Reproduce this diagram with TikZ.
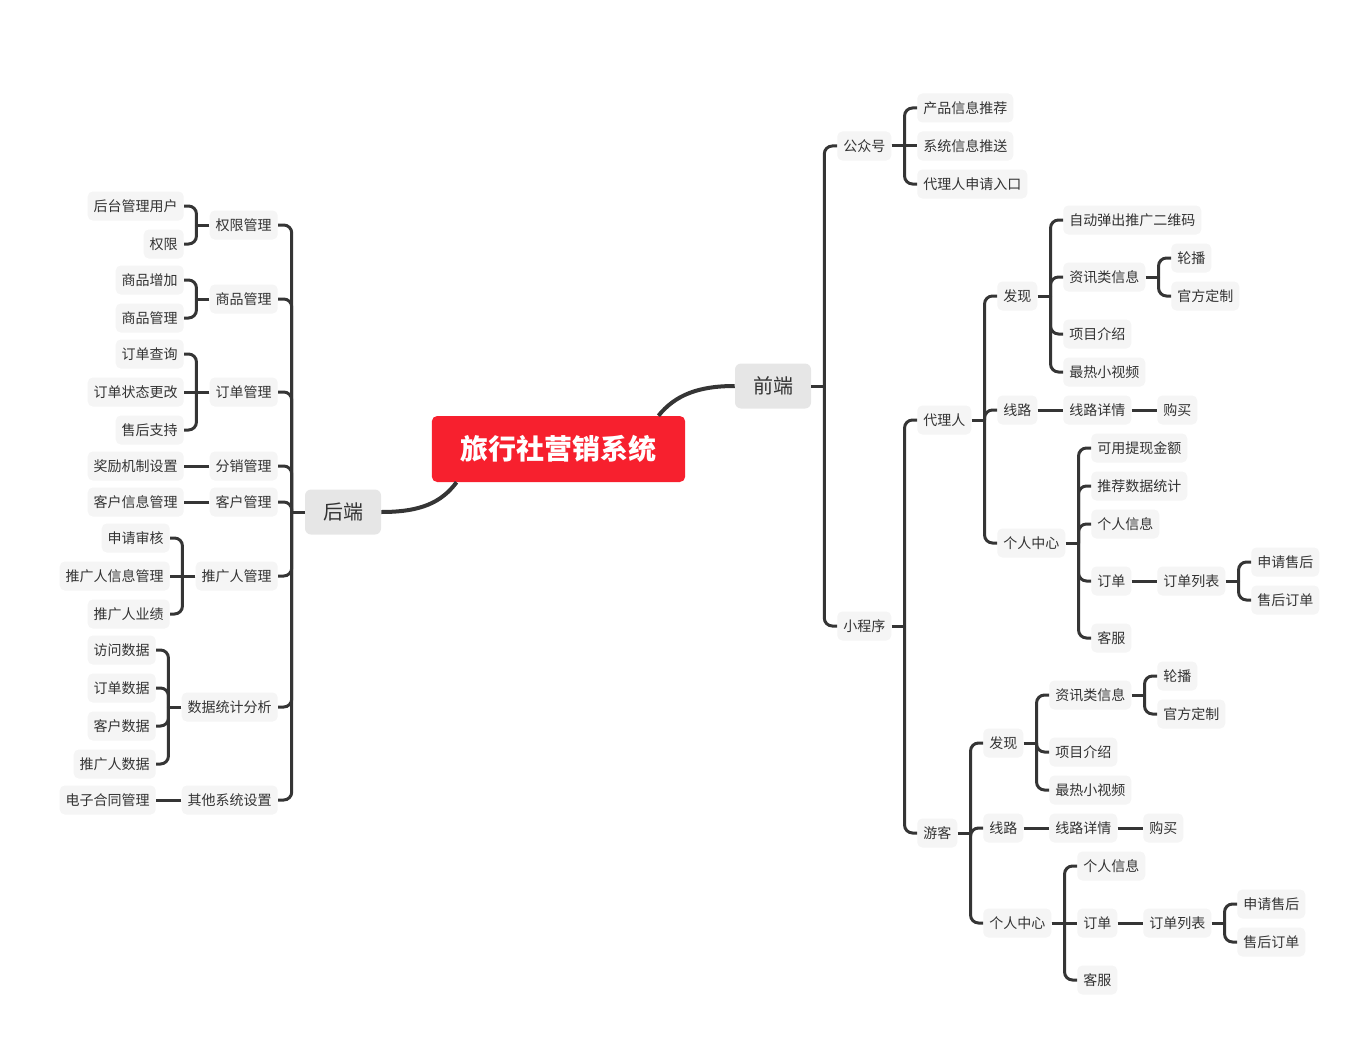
\documentclass[tikz,border=0pt]{standalone}
\usepackage{fontspec}
\setmainfont{Noto Sans CJK SC}
\usetikzlibrary{calc}
\definecolor{txt}{HTML}{333333}
\definecolor{lncol}{HTML}{353535}
\definecolor{leaffill}{HTML}{F5F5F5}
\definecolor{mainfill}{HTML}{E6E6E6}
\definecolor{rootred}{HTML}{F7202E}
\tikzset{
 leafbox/.style={fill=leaffill, text=txt, rounded corners=3.75pt, inner xsep=4.5pt, inner ysep=0pt, minimum height=21.75pt, font=\fontsize{10.5}{12}\selectfont},
 mainbox/.style={fill=mainfill, text=txt, rounded corners=4.5pt, minimum width=57pt, minimum height=33.75pt, inner sep=0pt, font=\fontsize{15}{18}\selectfont},
 rootbox/.style={fill=rootred, text=white, rounded corners=4pt, minimum width=190pt, minimum height=49.5pt, inner sep=0pt, font=\fontsize{21}{25}\selectfont\bfseries},
 conn/.style={draw=lncol, line width=2.25pt, rounded corners=6pt},
 nodeR/.style={leafbox, anchor=west},
 nodeL/.style={leafbox, anchor=east},
}
\newcommand\rbr[2]{\draw[conn] (#1.east) -- ++(13,0) coordinate (#1-bar);
  \foreach \c in {#2}{\draw[conn] (#1-bar) |- (\c.west);}}
\newcommand\lbr[2]{\draw[conn] (#1.west) -- ++(-13,0) coordinate (#1-bar);
  \foreach \c in {#2}{\draw[conn] (#1-bar) |- (\c.east);}}
\newcommand\sR[2]{\draw[conn] (#1.east) -- (#2.west);}
\newcommand\sL[2]{\draw[conn] (#1.west) -- (#2.east);}
\begin{document}
\begin{tikzpicture}[x=0.75pt,y=-0.75pt]
\useasboundingbox (0,0) rectangle (1369,1045);
% root and main
\node[rootbox] (title) at (558.5,449) {旅行社营销系统};
\node[mainbox] (qd) at (773,386) {前端};
\node[mainbox] (hd) at (343,512) {后端};
\draw[conn, line width=3pt] ($(title.north east)+(-27,0)$) .. controls +(17,-21) and +(-36,0) .. (qd.west);
\draw[conn, line width=3pt] ($(title.south west)+(25,0)$) .. controls +(-15,20) and +(40,0) .. (hd.east);

% ===== right side =====
\node[nodeR] (gzh) at (837,146) {公众号};
\node[nodeR] (r1) at (917,108) {产品信息推荐};
\node[nodeR] (r2) at (917,146) {系统信息推送};
\node[nodeR] (r3) at (917,184) {代理人申请入口};
\node[nodeR] (xcx) at (837,626) {小程序};
\node[nodeR] (dl) at (917,420) {代理人};
\node[nodeR] (dfx) at (997,296) {发现};
\node[nodeR] (d1) at (1063,220) {自动弹出推广二维码};
\node[nodeR] (dzx) at (1063,277) {资讯类信息};
\node[nodeR] (dlb) at (1171,258) {轮播};
\node[nodeR] (dgf) at (1171,296) {官方定制};
\node[nodeR] (dxm) at (1063,334) {项目介绍};
\node[nodeR] (dsp) at (1063,372) {最热小视频};
\node[nodeR] (dxl) at (997,410) {线路};
\node[nodeR] (dxq) at (1063,410) {线路详情};
\node[nodeR] (dgm) at (1157,410) {购买};
\node[nodeR] (dgr) at (997,543) {个人中心};
\node[nodeR] (dky) at (1091,448) {可用提现金额};
\node[nodeR] (dtj) at (1091,486) {推荐数据统计};
\node[nodeR] (dxx) at (1091,524) {个人信息};
\node[nodeR] (ddd) at (1091,581) {订单};
\node[nodeR] (dlist) at (1157,581) {订单列表};
\node[nodeR] (dsq) at (1251,562) {申请售后};
\node[nodeR] (dsh) at (1251,600) {售后订单};
\node[nodeR] (dkf) at (1091,638) {客服};
\node[nodeR] (yk) at (917,833) {游客};
\node[nodeR] (yfx) at (983,743) {发现};
\node[nodeR] (yzx) at (1049,695) {资讯类信息};
\node[nodeR] (ylb) at (1157,676) {轮播};
\node[nodeR] (ygf) at (1157,714) {官方定制};
\node[nodeR] (yxm) at (1049,752) {项目介绍};
\node[nodeR] (ysp) at (1049,790) {最热小视频};
\node[nodeR] (yxl) at (983,828) {线路};
\node[nodeR] (yxq) at (1049,828) {线路详情};
\node[nodeR] (ygm) at (1143,828) {购买};
\node[nodeR] (ygr) at (983,923) {个人中心};
\node[nodeR] (yxx) at (1077,866) {个人信息};
\node[nodeR] (ydd) at (1077,923) {订单};
\node[nodeR] (ylist) at (1143,923) {订单列表};
\node[nodeR] (ysq) at (1237,904) {申请售后};
\node[nodeR] (ysh) at (1237,942) {售后订单};
\node[nodeR] (ykf) at (1077,980) {客服};

\rbr{qd}{gzh,xcx}
\rbr{gzh}{r1,r3}
\sR{gzh}{r2}
\rbr{xcx}{dl,yk}
\rbr{dl}{dfx,dxl,dgr}
\rbr{dfx}{d1,dzx,dxm,dsp}
\rbr{dzx}{dlb,dgf}
\sR{dxl}{dxq}
\sR{dxq}{dgm}
\rbr{dgr}{dky,dtj,dxx,ddd,dkf}
\sR{ddd}{dlist}
\rbr{dlist}{dsq,dsh}
\rbr{yk}{yfx,yxl,ygr}
\rbr{yfx}{yzx,yxm,ysp}
\rbr{yzx}{ylb,ygf}
\sR{yxl}{yxq}
\sR{yxq}{ygm}
\rbr{ygr}{yxx,ykf}
\sR{ygr}{ydd}
\sR{ydd}{ylist}
\rbr{ylist}{ysq,ysh}

% ===== left side =====
\node[nodeL] (qx) at (278,225) {权限管理};
\node[nodeL] (qx1) at (184,206) {后台管理用户};
\node[nodeL] (qx2) at (184,244) {权限};
\node[nodeL] (sp) at (278,299) {商品管理};
\node[nodeL] (sp1) at (184,280) {商品增加};
\node[nodeL] (sp2) at (184,318) {商品管理};
\node[nodeL] (dd) at (278,392) {订单管理};
\node[nodeL] (dd1) at (184,354) {订单查询};
\node[nodeL] (dd2) at (184,392) {订单状态更改};
\node[nodeL] (dd3) at (184,430) {售后支持};
\node[nodeL] (fx) at (278,466) {分销管理};
\node[nodeL] (fx1) at (184,466) {奖励机制设置};
\node[nodeL] (kh) at (278,502) {客户管理};
\node[nodeL] (kh1) at (184,502) {客户信息管理};
\node[nodeL] (tg) at (278,576) {推广人管理};
\node[nodeL] (tg1) at (170,538) {申请审核};
\node[nodeL] (tg2) at (170,576) {推广人信息管理};
\node[nodeL] (tg3) at (170,614) {推广人业绩};
\node[nodeL] (sj) at (278,707) {数据统计分析};
\node[nodeL] (sj1) at (156,650) {访问数据};
\node[nodeL] (sj2) at (156,688) {订单数据};
\node[nodeL] (sj3) at (156,726) {客户数据};
\node[nodeL] (sj4) at (156,764) {推广人数据};
\node[nodeL] (qt) at (278,800) {其他系统设置};
\node[nodeL] (qt1) at (156,800) {电子合同管理};

\lbr{hd}{qx,sp,dd,fx,kh,tg,sj,qt}
\lbr{qx}{qx1,qx2}
\lbr{sp}{sp1,sp2}
\lbr{dd}{dd1,dd3}
\sL{dd}{dd2}
\sL{fx}{fx1}
\sL{kh}{kh1}
\lbr{tg}{tg1,tg3}
\sL{tg}{tg2}
\lbr{sj}{sj1,sj2,sj3,sj4}
\sL{qt}{qt1}
\end{tikzpicture}
\end{document}
